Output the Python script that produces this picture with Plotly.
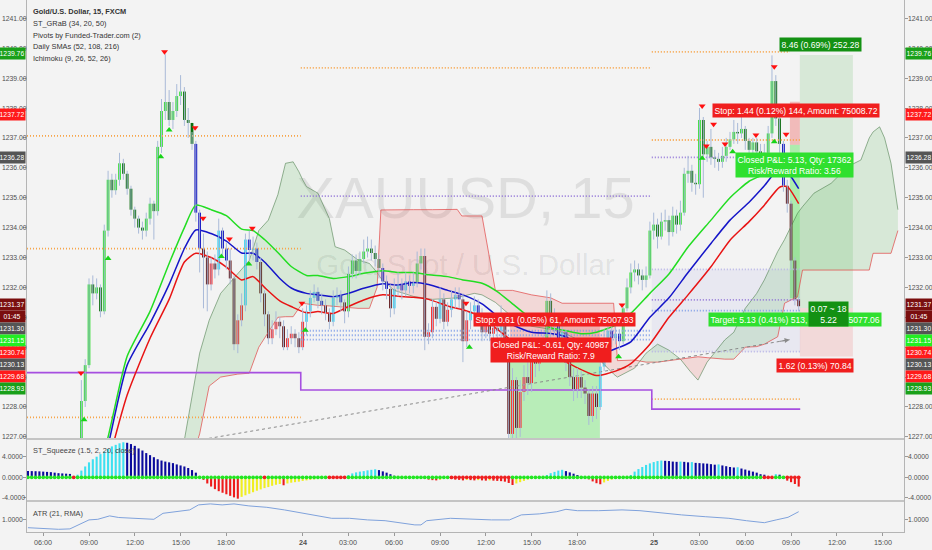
import numpy as np
import plotly.graph_objects as go

# ---------------- data ----------------
tick_bars = [0, 12, 24, 36, 48, 68, 80, 92, 104, 116, 128, 140, 160, 172, 184, 196, 208, 220]
tick_text = ["06:00", "09:00", "12:00", "15:00", "18:00", "<b>24</b>", "03:00", "06:00", "09:00",
             "12:00", "15:00", "18:00", "<b>25</b>", "03:00", "06:00", "09:00", "12:00", "15:00"]
main_ticks = [1227, 1228, 1229, 1230, 1231, 1232, 1233, 1234, 1235, 1236, 1237, 1238, 1239, 1240, 1241]
sq_ticks = [-4, 0, 4]
atr_ticks = [1.0]

first_bar = 10
first_open = 1226.6
closes = [1228.2, 1229.4, 1232.1, 1231.8, 1232.0, 1231.2, 1233.9, 1235.6, 1235.25, 1235.6,
          1236.15, 1235.8, 1235.3, 1234.6, 1234.3, 1234.0, 1233.9, 1234.3, 1234.8, 1234.55,
          1236.7, 1237.9, 1238.2, 1237.6, 1237.9, 1238.4, 1238.55, 1237.6, 1237.5, 1236.8,
          1234.5, 1233.3, 1233.0, 1232.1, 1232.8, 1232.6, 1233.9, 1233.3, 1232.9, 1232.3,
          1230.1, 1230.9, 1231.4, 1233.6, 1233.25, 1233.3, 1232.85, 1231.8, 1231.1, 1230.3,
          1230.6, 1230.85, 1230.7, 1230.0, 1230.3, 1230.45, 1230.3, 1230.0, 1230.85, 1231.2,
          1231.65, 1231.85, 1231.55, 1231.4, 1231.15, 1230.85, 1231.65, 1231.75, 1231.5, 1231.2,
          1232.45, 1232.9, 1232.55, 1232.95, 1233.2, 1233.3, 1233.15, 1232.95, 1232.65, 1232.2,
          1231.95, 1231.3, 1231.95, 1232.1, 1231.9, 1232.2, 1232.05, 1232.15, 1232.8, 1233.05,
          1230.35, 1230.5, 1231.35, 1230.95, 1231.6, 1230.85, 1231.25, 1231.6, 1231.75, 1231.6,
          1230.2, 1230.9, 1231.2, 1231.4, 1231.1, 1230.5, 1230.8, 1230.45, 1230.65, 1230.55,
          1230.9, 1229.9, 1227.1, 1228.9, 1227.3, 1228.5, 1229.0, 1228.8, 1229.6, 1229.45,
          1229.7, 1230.1, 1231.55, 1230.7, 1230.9, 1230.3, 1230.5, 1229.5, 1229.0, 1228.6,
          1229.0, 1228.65, 1228.45, 1227.7, 1228.45, 1228.0, 1229.35, 1230.3, 1230.55, 1230.3,
          1230.45, 1230.2, 1231.3, 1232.0, 1232.5, 1232.6, 1232.4, 1232.25, 1232.4, 1233.9,
          1234.1, 1233.7, 1234.2, 1234.25, 1233.85, 1234.4, 1234.1, 1234.5, 1235.8, 1235.9,
          1235.5, 1235.45, 1237.6, 1236.45, 1236.7, 1236.35, 1236.3, 1236.2, 1236.4, 1236.7,
          1236.95, 1237.2, 1237.15, 1237.3, 1236.9, 1236.6, 1236.85, 1236.55, 1236.45, 1236.5,
          1237.15, 1238.9, 1237.65, 1236.8, 1235.4, 1234.8, 1232.9, 1231.6, 1231.37]
highs = [1228.9, 1229.6, 1232.3, 1232.4, 1232.3, 1232.1, 1234.1, 1235.9, 1235.8, 1235.8,
         1236.5, 1236.3, 1235.9, 1235.4, 1234.7, 1234.4, 1234.2, 1234.5, 1235.0, 1234.9,
         1236.9, 1238.3, 1239.8, 1238.6, 1238.2, 1238.8, 1239.1, 1238.7, 1238.0, 1237.2,
         1236.9, 1234.6, 1233.8, 1233.2, 1233.0, 1233.1, 1234.3, 1234.0, 1233.5, 1233.3,
         1232.4, 1231.1, 1231.8, 1233.8, 1233.9, 1233.7, 1233.5, 1233.0, 1231.9, 1231.2,
         1230.9, 1231.2, 1231.0, 1230.9, 1230.6, 1230.7, 1230.6, 1230.5, 1231.3, 1231.4,
         1231.9, 1232.1, 1232.0, 1231.8, 1231.6, 1231.3, 1231.9, 1232.0, 1231.9, 1231.6,
         1232.7, 1233.1, 1233.1, 1233.2, 1233.6, 1233.7, 1233.6, 1233.4, 1233.1, 1232.8,
         1232.4, 1232.1, 1232.3, 1232.5, 1232.3, 1232.5, 1232.4, 1232.5, 1233.2, 1233.3,
         1233.3, 1230.8, 1231.6, 1231.5, 1232.0, 1231.8, 1231.5, 1231.9, 1232.0, 1232.0,
         1231.8, 1231.2, 1231.5, 1231.7, 1231.6, 1231.3, 1231.1, 1231.0, 1230.9, 1230.9,
         1231.4, 1231.0, 1230.0, 1229.3, 1229.0, 1228.9, 1229.4, 1229.6, 1229.9, 1229.9,
         1230.1, 1230.4, 1231.9, 1231.8, 1231.3, 1231.1, 1230.8, 1230.6, 1229.8, 1229.3,
         1229.3, 1229.2, 1228.9, 1228.6, 1228.7, 1228.7, 1229.6, 1230.6, 1230.9, 1230.8,
         1230.8, 1230.6, 1231.35, 1232.3, 1232.8, 1232.9, 1232.8, 1232.6, 1232.7, 1234.2,
         1234.5, 1234.3, 1234.5, 1234.6, 1234.4, 1234.7, 1234.6, 1234.9, 1236.0, 1236.4,
         1236.1, 1235.8, 1238.0, 1237.7, 1236.9, 1237.3, 1236.6, 1236.5, 1236.7, 1237.0,
         1237.2, 1237.6, 1237.5, 1237.7, 1237.4, 1237.0, 1237.0, 1237.0, 1236.8, 1236.8,
         1237.4, 1239.76, 1239.1, 1237.8, 1236.9, 1235.6, 1234.9, 1233.0, 1231.7]
lows = [1226.4, 1228.0, 1229.3, 1231.4, 1231.6, 1231.0, 1231.1, 1233.7, 1235.0, 1235.1,
        1235.4, 1235.6, 1235.1, 1234.4, 1234.0, 1233.8, 1233.6, 1233.7, 1234.1, 1233.6,
        1234.4, 1236.5, 1237.6, 1237.4, 1237.3, 1237.7, 1238.1, 1237.4, 1237.0, 1236.6,
        1234.2, 1232.5, 1231.3, 1231.2, 1231.9, 1232.3, 1232.4, 1233.0, 1232.6, 1232.1,
        1229.9, 1229.8, 1230.7, 1231.2, 1232.9, 1232.9, 1232.6, 1231.5, 1230.7, 1230.1,
        1230.1, 1230.4, 1230.3, 1229.9, 1229.9, 1230.1, 1230.0, 1229.8, 1229.9, 1230.4,
        1231.0, 1231.5, 1231.3, 1231.1, 1230.9, 1230.6, 1230.7, 1231.4, 1231.2, 1230.8,
        1231.0, 1232.3, 1232.3, 1232.4, 1232.8, 1233.0, 1232.9, 1232.7, 1232.3, 1231.9,
        1231.6, 1231.0, 1231.1, 1231.7, 1231.6, 1231.7, 1231.8, 1231.8, 1232.0, 1232.6,
        1229.9, 1230.1, 1230.3, 1230.7, 1230.8, 1230.6, 1230.7, 1231.0, 1231.3, 1231.3,
        1229.5, 1230.0, 1230.6, 1231.0, 1230.8, 1230.2, 1230.3, 1230.2, 1230.2, 1230.2,
        1230.3, 1229.6, 1226.5, 1226.9, 1226.8, 1227.0, 1228.2, 1228.4, 1228.5, 1229.0,
        1229.2, 1229.5, 1229.9, 1230.2, 1230.4, 1230.0, 1230.0, 1229.2, 1228.7, 1228.2,
        1228.3, 1228.3, 1228.1, 1227.4, 1227.5, 1227.6, 1227.9, 1229.2, 1230.1, 1230.0,
        1230.1, 1229.9, 1230.1, 1231.2, 1231.8, 1232.2, 1232.1, 1231.9, 1232.0, 1232.3,
        1233.6, 1233.3, 1233.6, 1233.9, 1233.4, 1233.7, 1233.8, 1233.9, 1234.4, 1235.5,
        1235.2, 1235.1, 1235.3, 1235.0, 1236.2, 1236.1, 1236.0, 1235.9, 1236.0, 1236.2,
        1236.6, 1236.8, 1236.8, 1237.0, 1236.6, 1236.3, 1236.4, 1236.2, 1236.2, 1236.1,
        1236.3, 1237.0, 1237.4, 1236.5, 1235.2, 1234.5, 1232.6, 1231.4, 1231.2]

# ST_GRaB channel (read at sample bars)
grab_x = [12, 17, 22, 28, 33, 37, 40, 44, 48, 52, 55, 58, 62, 65, 69, 72, 76, 80, 84, 89, 93, 97,
          101, 106, 110, 115, 119, 123, 128, 133, 137, 141, 145, 150, 154, 159, 164, 169, 175, 180,
          185, 189, 193, 195, 198]
grab_upper = [1224.8, 1227.0, 1229.7, 1231.2, 1232.8, 1234.0, 1234.75, 1234.6, 1234.4, 1233.95,
              1233.9, 1233.6, 1233.1, 1232.7, 1232.4, 1232.4, 1232.3, 1232.36, 1232.47, 1232.56,
              1232.5, 1232.5, 1232.42, 1232.36, 1232.25, 1232.14, 1231.86, 1231.45, 1230.95, 1230.65,
              1230.55, 1230.45, 1230.5, 1230.74, 1231.13, 1231.8, 1232.45, 1233.35, 1234.25, 1235.0,
              1235.55, 1235.8, 1236.3, 1236.4, 1236.2]
grab_mid = [1224.0, 1226.7, 1229.4, 1230.8, 1232.1, 1233.3, 1233.92, 1233.8, 1233.55, 1233.15,
            1233.14, 1232.85, 1232.3, 1231.98, 1231.8, 1231.75, 1231.69, 1231.8, 1231.97, 1232.12,
            1232.08, 1232.16, 1232.1, 1231.9, 1231.75, 1231.45, 1231.05, 1230.75, 1230.5, 1230.46,
            1230.35, 1229.95, 1229.74, 1229.95, 1230.18, 1231.0, 1231.65, 1232.5, 1233.47, 1234.25,
            1234.85, 1235.4, 1236.0, 1235.87, 1235.3]
grab_lower = [1223.5, 1226.1, 1228.4, 1230.3, 1231.6, 1232.85, 1233.14, 1233.0, 1232.68, 1232.25,
              1232.36, 1232.0, 1231.55, 1231.36, 1231.15, 1231.19, 1231.13, 1231.36, 1231.58, 1231.75,
              1231.7, 1231.67, 1231.6, 1231.38, 1231.25, 1231.0, 1230.6, 1230.2, 1229.85, 1229.7,
              1229.5, 1229.25, 1229.05, 1229.2, 1229.45, 1230.1, 1231.0, 1231.75, 1232.69, 1233.58,
              1234.2, 1234.75, 1235.35, 1235.37, 1234.8]

# Ichimoku cloud spans
ichi_x = [33, 37, 41, 43.5, 46.5, 51, 54, 56.5, 59, 61.5, 63.5, 65.5, 67, 68, 69, 72, 75, 76.5, 79,
          82.5, 85.5, 87.5, 88.5, 92, 97, 102, 108.5, 109.7, 113, 115, 118.5, 123, 128, 133, 136,
          141, 147, 149.5, 150.5, 155, 158, 161, 164, 167, 169.5, 171.6, 174, 178.6, 181, 184, 187,
          189, 192.5, 194.3, 197.7, 199, 202, 206.5, 211, 214.3, 216.5, 217.5, 219.2, 220.5, 222.2, 224]
span_a = [1225.5, 1226.9, 1229.8, 1230.9, 1231.8, 1232.45, 1232.9, 1233.9, 1234.25, 1235.1,
          1236.15, 1236.2, 1235.87, 1235.6, 1235.37, 1235.15, 1234.3, 1233.36, 1233.25, 1232.92,
          1232.8, 1232.5, 1232.3, 1231.9, 1231.7, 1231.6, 1231.65, 1231.7, 1231.8, 1231.75,
          1231.5, 1231.0, 1230.7, 1230.6, 1230.5, 1230.2, 1229.4, 1229.1, 1229.0, 1229.3,
          1229.8, 1230.1, 1229.9, 1229.6, 1229.2, 1228.9, 1229.5, 1230.24, 1230.5, 1231.3,
          1231.8, 1232.25, 1233.2, 1233.6, 1234.48, 1234.7, 1235.15, 1235.48, 1236.05, 1236.26,
          1237.0, 1237.2, 1237.37, 1237.0, 1236.15, 1234.6]
span_b = [1224.5, 1225.5, 1227.1, 1228.7, 1229.0, 1229.1, 1229.13, 1230.0, 1230.5, 1231.0,
          1231.02, 1231.02, 1231.3, 1231.47, 1231.45, 1231.4, 1231.38, 1231.36, 1231.35, 1231.3,
          1231.3, 1232.0, 1234.59, 1234.6, 1234.6, 1234.6, 1234.61, 1234.39, 1234.39, 1234.39,
          1231.9, 1231.9, 1231.75, 1231.65, 1231.47, 1231.47, 1231.47, 1231.47, 1229.55, 1229.57,
          1229.5, 1229.5, 1229.55, 1229.6, 1229.65, 1229.68, 1229.65, 1229.6, 1229.6, 1230.0,
          1230.02, 1230.1, 1230.35, 1231.47, 1231.69, 1232.58, 1232.58, 1232.58, 1232.58, 1232.58,
          1232.58, 1233.14, 1233.14, 1233.14, 1233.14, 1233.9]

# Pivot (solid purple step line)
pivot_x = [-4.25, 67.5, 159.5, 198.4]
pivot_y = [1229.15, 1228.57, 1227.93, 1227.93]

# Dotted levels (daily SMAs / pivot levels)
level_x0 = [-4.25, -4.25, -4.25, 67.5, 67.5, 67.5, 67.5, 67.5, 159.5, 159.5, 159.5, 159.5, 159.5, 159.5, 159.5, 159.5]
level_x1 = [67.5, 67.5, 67.5, 159.5, 159.5, 159.5, 159.5, 159.5, 195.7, 198.4, 192.5, 198.4, 198.4, 198.4, 198.4, 198.4]
level_y = [1237.07, 1233.30, 1227.65, 1239.34, 1235.05, 1230.55, 1230.40, 1230.25, 1239.88, 1236.93,
           1236.35, 1232.60, 1231.58, 1231.22, 1229.85, 1228.26]
level_kind = ["orange", "orange", "orange", "orange", "purple", "blue", "blue", "blue", "orange", "orange",
              "purple", "lavender", "purple", "blue", "lavender", "orange"]
zone_x = [159.5, 198.4]
zone_y = [1229.85, 1232.60]

# Trend line
trend_x = [43.4, 195.6]
trend_y = [1226.95, 1230.25]

# Fractal markers
frac_dn_x = [9.9, 31.8, 39.8, 41.9, 48.8, 54.8, 67.8, 110.8, 151.7, 172.7, 173.8, 175.7, 178.7, 186.8, 191.6, 194.7]
frac_dn_y = [1229.14, 1239.88, 1237.34, 1234.31, 1233.62, 1233.98, 1231.47, 1231.47, 1231.41, 1238.07,
             1236.73, 1237.46, 1236.80, 1237.10, 1239.38, 1237.12]
frac_up_x = [10.7, 17.0, 30.8, 33.0, 46.7, 53.9, 68.7, 111.7, 150.8, 172.7, 180.7, 191.6]
frac_up_y = [1227.57, 1232.97, 1236.37, 1237.26, 1233.03, 1232.78, 1230.57, 1230.0, 1229.68, 1236.32,
             1236.54, 1236.87]

# Positions (long / short tools)
pos_x0 = [122.3, 198.3, 195.7]
pos_x1 = [145.9, 212.2, 198.3]
pos_entry = [1230.25, 1231.31, 1236.77]
pos_stop = [1230.86, 1229.69, 1238.21]
pos_target = [1225.43, 1239.77, 1231.64]
pos_profit_fill = ["rgba(60,225,60,0.32)", "rgba(76,175,80,0.17)", "rgba(60,225,60,0.38)"]
pos_loss_fill = ["rgba(239,83,80,0.30)", "rgba(239,83,80,0.16)", "rgba(239,83,80,0.35)"]

pos_label_x = [134.0, 133.1, 197.3, 197.0, 197.0, 205.7, 203.8, 202.3]
pos_label_y = [1230.94, 1229.90, 1237.93, 1236.10, 1230.91, 1231.10, 1240.11, 1229.40]
pos_label_text = ["Stop: 0.61 (0.05%) 61, Amount: 75007.93",
                  "Closed P&L: -0.61, Qty: 40987<br>Risk/Reward Ratio: 7.9",
                  "Stop: 1.44 (0.12%) 144, Amount: 75008.72",
                  "Closed P&L: 5.13, Qty: 17362<br>Risk/Reward Ratio: 3.56",
                  "Target: 5.13 (0.41%) 513, Amount: 75077.06",
                  "0.07 ~ 18<br>5.22",
                  "8.46 (0.69%) 252.28",
                  "1.62 (0.13%) 70.84"]
pos_label_bg = ["#f01e1e", "#f01e1e", "#f01e1e", "#2fe02f", "#2fe02f", "#139113", "#139113", "#f01e1e"]

# Price-axis labels
axis_label_text = ["1239.76", "1237.72", "1236.28", "1231.37", "01:45", "1231.30", "1231.15",
                   "1230.74", "1230.13", "1229.68", "1228.93"]
axis_label_price = [1239.76, 1237.72, 1236.28, 1231.37, 1231.37, 1231.30, 1231.15, 1230.74,
                    1230.13, 1229.68, 1228.93]
axis_label_bg = ["#19a019", "#ff1a1a", "#555555", "#7a0e0e", "#7a0e0e", "#555555", "#22ee22",
                 "#ff1a1a", "#555555", "#ff1a1a", "#19a019"]

# ST_Squeeze histogram, bars -4 .. 198
sq_first = -4
sq_vals = [1.2, 1.2, 1.18, 1.15, 1.1, 1.05, 1.0, 0.9, 0.8, 0.75, 0.7, 0.65, -0.3,
           0.5, 1.3, 2.1, 2.9, 3.5, 4.0, 4.5, 5.0, 5.5, 6.0, 6.3, 6.6, 6.8,
           6.7, 6.45, 6.1, 5.6, 5.2, 4.7, 4.3, 3.9, 3.5, 3.25, 3.05, 2.9, 2.75, 2.5, 2.3, 2.1,
           1.8, 1.4, 0.9, 0.2,
           -0.5, -1.2, -1.8, -2.3, -2.7, -3.0, -3.3, -3.6, -3.9, -4.15,
           -3.8, -3.5, -3.2, -2.9, -2.6, -2.35, -2.1, -1.9, -1.65, -1.45, -1.3, -1.55,
           -1.2, -1.05, -0.95, -0.85, -0.7, -0.6, -0.5, -0.42, -0.35, -0.25, -0.15, -0.1,
           -0.15, -0.2, -0.25, -0.1,
           0.45, 0.75, 0.95, 1.1, 1.2, 1.35, 1.45, 1.55, 1.4, 1.15, 0.9, 0.6, 0.3, 0.1, 0.05,
           0.03, 0.02, 0.01, 0.0, -0.05,
           -0.3, -0.45, -0.55, -0.6, -0.5, -0.3, -0.2, -0.35, -0.45, -0.5, -0.6, -0.5, -0.55,
           -0.6, -0.55, -0.6, -0.65, -0.6, -0.65, -0.7, -0.75, -0.85, -1.1, -1.5,
           -1.2, -0.95, -0.7, -0.45, -0.25, -0.1, 0.0, 0.1,
           0.45, 0.8, 1.05, 1.3, 1.45, 1.2, 0.95, 0.7, 0.45, 0.2, 0.0,
           -0.4, -0.8, -1.15, -1.35, -1.0, -0.7, -0.45, -0.3, -0.15, -0.05,
           0.1, 0.45, 1.1, 1.6, 2.0, 2.4, 2.7, 2.95, 3.15, 3.25, 3.2, 3.15, 3.05, 3.0, 3.05,
           3.0, 2.9, 2.95, 2.8, 2.75, 2.7, 2.65, 2.55, 2.45, 2.5, 2.3, 2.15, 2.0, 1.9, 1.95,
           1.7, 1.5, 1.3, 1.1, 0.9, 0.6, 0.5, 0.2, -0.2, 0.6, 0.5,
           -0.3, -0.65, -0.95, -1.3, -1.8]
sq_red_dot_bars = [8, 58, 75, 76, 77, 78, 79] + list(range(107, 123)) + [189, 190, 191, 195, 196, 197, 198]

# ATR (21, RMA)
atr_x = [-4, 1, 4, 7, 9.6, 12, 14.3, 17.4, 19.8, 24.4, 29, 31.4, 35.3, 38.4, 40.7, 43.8, 46.9, 50,
         53.9, 58.6, 63.2, 67.9, 72.5, 75.6, 80.3, 85, 89.6, 94.3, 97.4, 99, 100.5, 106.7, 112.9,
         117.5, 122.2, 125.3, 130, 134.6, 137, 140, 145.5, 151.7, 156.4, 161, 167.3, 173.5, 179.7,
         184.3, 189, 192.1, 195.2, 198]
atr_vals = [0.58, 0.55, 0.50, 0.52, 0.75, 0.97, 1.0, 1.17, 1.09, 1.05, 1.0, 1.3, 1.38, 1.47, 1.72,
            1.77, 1.72, 1.77, 1.67, 1.6, 1.47, 1.3, 1.17, 1.05, 1.05, 0.97, 0.93, 0.8, 0.72, 0.72,
            0.93, 1.05, 1.0, 0.97, 0.97, 1.22, 1.27, 1.38, 1.5, 1.43, 1.43, 1.47, 1.43, 1.33, 1.22,
            1.13, 1.05, 0.93, 0.83, 0.97, 1.1, 1.38]

legend_lines = ["<b>Gold/U.S. Dollar, 15, FXCM</b>", "ST_GRaB (34, 20, 50)",
                "Pivots by Funded-Trader.com (2)", "Daily SMAs (52, 108, 216)", "Ichimoku (9, 26, 52, 26)"]

# ---------------- layout constants ----------------
W, H = 932, 550
ML, MR, MT, MB = 27, 28, 0, 18
PW, PH = W - ML - MR, H - MT - MB
XR = [-4.25, 225.6]
YR_MAIN = [1226.963, 1241.612]
YR_SQ = [-4.41, 7.24]
YR_ATR = [0.365, 1.865]
MAIN_PX = 438
D_MAIN = [1 - MAIN_PX / PH, 1]
D_SQ = [(PH - 500) / PH, (PH - 440) / PH]
D_ATR = [0, (PH - 502) / PH]
FONT = "Liberation Sans, Arial, sans-serif"
BG = "#f3f3f3"
AXC = "#b4b4b4"
TXT = "#505050"

def py(Y):
    return (PH - Y) / PH

def px(X):
    return (X - ML) / PW

fig = go.Figure()

# watermark
wm_x = (XR[0] + XR[1]) / 2
span = YR_MAIN[1] - YR_MAIN[0]
fig.add_trace(go.Scatter(x=[wm_x], y=[YR_MAIN[1] - 203 / MAIN_PX * span], mode="text",
                         text=["XAUUSD, 15"], textfont=dict(size=58, color="rgba(0,0,0,0.085)", family=FONT),
                         hoverinfo="skip", showlegend=False))
fig.add_trace(go.Scatter(x=[wm_x], y=[YR_MAIN[1] - 268 / MAIN_PX * span], mode="text",
                         text=["Gold Spot / U.S. Dollar"],
                         textfont=dict(size=29.5, color="rgba(0,0,0,0.085)", family=FONT),
                         hoverinfo="skip", showlegend=False))

# Ichimoku cloud fills
def cloud_polys(xs, a, b):
    polys = []
    cx, ca, cb = [xs[0]], [a[0]], [b[0]]
    sign = np.sign(a[0] - b[0])
    for i in range(1, len(xs)):
        d0, d1 = a[i - 1] - b[i - 1], a[i] - b[i]
        s1 = np.sign(d1)
        if s1 != 0 and s1 != sign:
            t = d0 / (d0 - d1)
            xc = xs[i - 1] + t * (xs[i] - xs[i - 1])
            yc = a[i - 1] + t * (a[i] - a[i - 1])
            cx.append(xc); ca.append(yc); cb.append(yc)
            polys.append((sign, cx, ca, cb))
            cx, ca, cb = [xc], [yc], [yc]
            sign = s1
        cx.append(xs[i]); ca.append(a[i]); cb.append(b[i])
    polys.append((sign, cx, ca, cb))
    return polys

for sgn, cx, ca, cb in cloud_polys(ichi_x, span_a, span_b):
    col = "rgba(76,175,80,0.17)" if sgn > 0 else "rgba(239,83,80,0.17)"
    fig.add_trace(go.Scatter(x=cx + cx[::-1], y=ca + cb[::-1], fill="toself", fillcolor=col,
                             mode="none", hoverinfo="skip", showlegend=False))
fig.add_trace(go.Scatter(x=ichi_x, y=span_a, mode="lines", line=dict(color="rgba(70,120,70,0.55)", width=1),
                         hoverinfo="skip", showlegend=False))
fig.add_trace(go.Scatter(x=ichi_x, y=span_b, mode="lines", line=dict(color="rgba(225,70,70,0.7)", width=1),
                         hoverinfo="skip", showlegend=False))

# dotted levels
kind_color = {"orange": "#f7a54a", "purple": "#9477d8", "blue": "#7f9ee8", "lavender": "#b9b5e6"}
for kind, colr in kind_color.items():
    xs, ys = [], []
    for x0, x1, yv, k in zip(level_x0, level_x1, level_y, level_kind):
        if k == kind:
            xs += [x0, x1, None]
            ys += [yv, yv, None]
    fig.add_trace(go.Scatter(x=xs, y=ys, mode="lines", line=dict(color=colr, width=1.8, dash="1px,2px"),
                             hoverinfo="skip", showlegend=False))

# pivot solid line
fig.add_trace(go.Scatter(x=pivot_x, y=pivot_y, mode="lines", line=dict(color="#a64fe0", width=1.6, shape="hv"),
                         hoverinfo="skip", showlegend=False))

# trend line
fig.add_trace(go.Scatter(x=trend_x, y=trend_y, mode="lines", line=dict(color="#8a8a8a", width=1, dash="3px,3px"),
                         hoverinfo="skip", showlegend=False))

# GRaB lines
for arr, colr in [(grab_upper, "#22dd22"), (grab_mid, "#1515c8"), (grab_lower, "#e81414")]:
    fig.add_trace(go.Scatter(x=grab_x, y=arr, mode="lines",
                             line=dict(color=colr, width=1.5, shape="spline", smoothing=0.6),
                             hoverinfo="skip", showlegend=False))

# candles
n = len(closes)
bars = [first_bar + i for i in range(n)]
opens = [first_open] + closes[:-1]
up_i = np.interp(bars, grab_x, grab_upper)
lo_i = np.interp(bars, grab_x, grab_lower)
colors = []
for i in range(n):
    bull = closes[i] >= opens[i]
    if closes[i] > up_i[i]:
        colors.append("#33dd33" if bull else "#0d6e0d")
    elif closes[i] < lo_i[i]:
        colors.append("#ff2020" if bull else "#5e1010")
    else:
        colors.append("#3fd8f5" if bull else "#0a0ac0")
wx, wy = [], []
for b, h, l in zip(bars, highs, lows):
    wx += [b, b, None]
    wy += [l, h, None]
fig.add_trace(go.Scatter(x=wx, y=wy, mode="lines", line=dict(color="#a9bad8", width=1),
                         hoverinfo="skip", showlegend=False))
base = [min(o, c) for o, c in zip(opens, closes)]
hgt = [max(abs(c - o), 0.04) for o, c in zip(opens, closes)]
fig.add_trace(go.Bar(x=bars, y=hgt, base=base, width=0.72, marker=dict(color=colors, line=dict(width=0)),
                     hoverinfo="skip", showlegend=False))

# fractal markers
fig.add_trace(go.Scatter(x=frac_dn_x, y=frac_dn_y, mode="markers",
                         marker=dict(symbol="triangle-down", size=6, color="#ff1010"), hoverinfo="skip", showlegend=False))
fig.add_trace(go.Scatter(x=frac_up_x, y=frac_up_y, mode="markers",
                         marker=dict(symbol="triangle-up", size=6, color="#18d418"), hoverinfo="skip", showlegend=False))

# squeeze histogram
sq_bars = [sq_first + i for i in range(len(sq_vals))]
sq_cols = []
for i, v in enumerate(sq_vals):
    prev = sq_vals[i - 1] if i > 0 else v
    if v >= 0:
        sq_cols.append("#3de0f0" if v > prev else "#0a0a9c")
    else:
        sq_cols.append("#ee1a1a" if v < prev else "#f0ee20")
fig.add_trace(go.Bar(x=sq_bars, y=sq_vals, width=0.55, marker=dict(color=sq_cols, line=dict(width=0)),
                     xaxis="x2", yaxis="y2", hoverinfo="skip", showlegend=False))
dot_cols = ["#ee2020" if b in sq_red_dot_bars else "#22e622" for b in sq_bars]
fig.add_trace(go.Scatter(x=sq_bars, y=[0] * len(sq_bars), mode="markers",
                         marker=dict(size=3.8, color=dot_cols, symbol="circle"),
                         xaxis="x2", yaxis="y2", hoverinfo="skip", showlegend=False))

# ATR
fig.add_trace(go.Scatter(x=atr_x, y=atr_vals, mode="lines", line=dict(color="#7fa2dc", width=1),
                         xaxis="x3", yaxis="y3", hoverinfo="skip", showlegend=False))

# shapes: positions and zone
shapes = []
shapes.append(dict(type="rect", xref="x", yref="y", x0=zone_x[0], x1=zone_x[1], y0=zone_y[0], y1=zone_y[1],
                   fillcolor="rgba(160,160,230,0.13)", line=dict(width=0), layer="below"))
for x0, x1, e, s, t, pf, lf in zip(pos_x0, pos_x1, pos_entry, pos_stop, pos_target, pos_profit_fill, pos_loss_fill):
    shapes.append(dict(type="rect", xref="x", yref="y", x0=x0, x1=x1, y0=e, y1=t, fillcolor=pf,
                       line=dict(width=0), layer="below"))
    shapes.append(dict(type="rect", xref="x", yref="y", x0=x0, x1=x1, y0=e, y1=s, fillcolor=lf,
                       line=dict(width=0), layer="below"))
for Y in [439, 501]:
    shapes.append(dict(type="line", xref="paper", yref="paper", x0=0, x1=1, y0=py(Y), y1=py(Y),
                       line=dict(color="#c4c4c4", width=2)))

annotations = []
annotations.append(dict(x=trend_x[1], y=trend_y[1], xref="x", yref="y", ax=trend_x[1] - 3,
                        ay=trend_y[1] - 3 * (trend_y[1] - trend_y[0]) / (trend_x[1] - trend_x[0]),
                        axref="x", ayref="y", text="", showarrow=True, arrowhead=2, arrowsize=1,
                        arrowwidth=1, arrowcolor="#8a8a8a"))
for x, y, t, bg in zip(pos_label_x, pos_label_y, pos_label_text, pos_label_bg):
    annotations.append(dict(x=x, y=y, xref="x", yref="y", text=t, showarrow=False, bgcolor=bg,
                            font=dict(color="white", size=8.6, family=FONT), borderpad=1.5,
                            align="center"))

for k, line in enumerate(legend_lines):
    annotations.append(dict(x=px(31), y=py(11.5 + 11.8 * k), xref="paper", yref="paper", text=line,
                            showarrow=False, xanchor="left", yanchor="middle",
                            font=dict(size=7.4, color="#333333", family=FONT)))
annotations.append(dict(x=px(31), y=py(450), xref="paper", yref="paper", text="ST_Squeeze (1.5, 2, 20, close)",
                        showarrow=False, xanchor="left", yanchor="middle", font=dict(size=7.4, color="#444", family=FONT)))
annotations.append(dict(x=px(31), y=py(513), xref="paper", yref="paper", text="ATR (21, RMA)",
                        showarrow=False, xanchor="left", yanchor="middle", font=dict(size=7.4, color="#444", family=FONT)))

# tick labels (both sides), drawn through the axes' scales
tick_font = dict(size=6.8, color=TXT, family=FONT)
for yref, vals, fmt in [("y", main_ticks, "{:.2f}"), ("y2", sq_ticks, "{:.4f}"), ("y3", atr_ticks, "{:.4f}")]:
    for v in vals:
        s = fmt.format(v)
        annotations.append(dict(x=px(0.5), y=v, xref="paper", yref=yref, text=s, showarrow=False,
                                xanchor="left", yanchor="middle", font=tick_font, borderpad=0))
        annotations.append(dict(x=px(907), y=v, xref="paper", yref=yref, text=s, showarrow=False,
                                xanchor="left", yanchor="middle", font=tick_font, borderpad=0))
for b, t in zip(tick_bars, tick_text):
    annotations.append(dict(x=b, y=py(542), xref="x3", yref="paper", text=t, showarrow=False,
                            xanchor="center", yanchor="middle", font=dict(tick_font, size=7.2)))

# price-axis labels, stacked like the platform does
prev = -1e9
for t, p, bg in zip(axis_label_text, axis_label_price, axis_label_bg):
    natural = (YR_MAIN[1] - p) / span * MAIN_PX - 2
    pos = max(natural, prev + 12)
    prev = pos
    for side in (0, 1):
        annotations.append(dict(x=side, y=py(pos), xref="paper", yref="paper", text=t, showarrow=False,
                                xanchor="right" if side == 0 else "left", yanchor="middle",
                                xshift=-1 if side == 0 else 1,
                                bgcolor=bg, width=25, height=10, borderpad=0.5,
                                font=dict(size=6.8, color="white", family=FONT)))

yax_common = dict(showgrid=False, zeroline=False, showline=True, linecolor=AXC, mirror="ticks",
                  ticks="outside", ticklen=3, tickcolor="#999", showticklabels=False,
                  fixedrange=True, automargin=False)
xax_common = dict(range=XR, showgrid=False, zeroline=False, showline=True, linecolor=AXC, mirror=True,
                  fixedrange=True, automargin=False, showticklabels=False)

fig.update_layout(
    width=W, height=H, margin=dict(l=ML, r=MR, t=MT, b=MB, autoexpand=False),
    paper_bgcolor=BG, plot_bgcolor=BG, showlegend=False, hovermode=False, barmode="overlay",
    xaxis=dict(xax_common, anchor="y", ticks=""),
    xaxis2=dict(xax_common, anchor="y2", matches="x", ticks=""),
    xaxis3=dict(xax_common, anchor="y3", matches="x", tickvals=tick_bars,
                ticks="outside", ticklen=3, tickcolor="#999"),
    yaxis=dict(yax_common, domain=D_MAIN, range=YR_MAIN, tickvals=main_ticks, anchor="x"),
    yaxis2=dict(yax_common, domain=D_SQ, range=YR_SQ, tickvals=sq_ticks, anchor="x2"),
    yaxis3=dict(yax_common, domain=D_ATR, range=YR_ATR, tickvals=atr_ticks, anchor="x3"),
    shapes=shapes, annotations=annotations,
)

fig.write_html("out.html", config={"displayModeBar": False, "staticPlot": True},
               post_script="document.body.style.margin='0';"
                           "document.documentElement.style.overflow='hidden';"
                           "document.body.style.background='" + BG + "';")
